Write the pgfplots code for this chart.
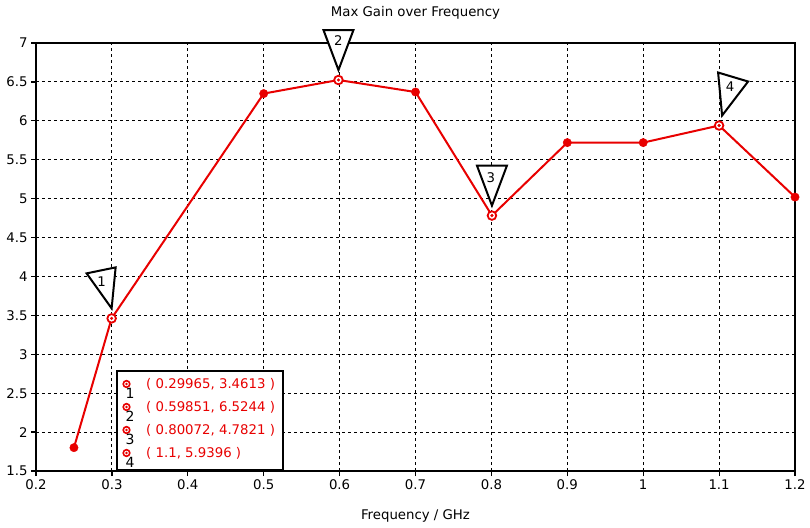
\documentclass[border=0pt]{standalone}
\usepackage{pgfplots}
\pgfplotsset{compat=1.18}
\usepackage{fontspec}
\setmainfont{DejaVu Sans}
\definecolor{mred}{RGB}{232,0,0}
\begin{document}
\begin{tikzpicture}[font=\fontsize{13.3}{15}\selectfont]
\path[use as bounding box] (-36pt,-56pt) rectangle (774pt,471pt);
\begin{axis}[
  at={(0pt,0pt)}, anchor=south west,
  scale only axis, width=759pt, height=428pt,
  xmin=0.2, xmax=1.2, ymin=1.5, ymax=7,
  xtick={0.2,0.3,0.4,0.5,0.6,0.7,0.8,0.9,1.0,1.1,1.2},
  xticklabels={0.2,0.3,0.4,0.5,0.6,0.7,0.8,0.9,1,1.1,1.2},
  ytick={1.5,2,2.5,3,3.5,4,4.5,5,5.5,6,6.5,7},
  yticklabels={1.5,2,2.5,3,3.5,4,4.5,5,5.5,6,6.5,7},
  tick align=outside, xtick pos=bottom, ytick pos=left,
  major tick length=5pt,
  tick style={black, line width=1.2pt},
  grid=major,
  grid style={black, line width=1pt, dash pattern=on 3pt off 3pt},
  axis line style={black, line width=2pt},
  title={Max Gain over Frequency},
  title style={at={(0.5,1)}, anchor=base, yshift=21pt},
  xlabel={Frequency / GHz},
  xlabel style={at={(0.5,0)}, anchor=base, yshift=-48pt},
  /pgf/number format/assume math mode=true,
  clip=false,
]
\addplot[mred, line width=2pt, mark=none] coordinates {
  (0.25,1.8) (0.29965,3.4613) (0.5,6.35) (0.59851,6.5244) (0.7,6.37)
  (0.80072,4.7821) (0.9,5.72) (1.0,5.72) (1.1,5.9396) (1.2,5.02)};
\addplot[mred, only marks, mark=*, mark size=4.2pt] coordinates {
  (0.25,1.8) (0.5,6.35) (0.7,6.37) (0.9,5.72) (1.0,5.72) (1.2,5.02)};
\addplot[mred, only marks, mark=*, mark size=4.3pt, line width=1.8pt,
  mark options={fill=white, draw=mred}] coordinates {
  (0.29965,3.4613) (0.59851,6.5244) (0.80072,4.7821) (1.1,5.9396)};
\addplot[mred, only marks, mark=*, mark size=1.4pt] coordinates {
  (0.29965,3.4613) (0.59851,6.5244) (0.80072,4.7821) (1.1,5.9396)};
% marker triangles
\draw[shift={(axis cs:0.29965,3.4613)}, line width=2pt, fill=white]
  (0pt,10pt) -- (-25pt,45pt) -- (4pt,51pt) -- cycle;
\node[shift={(axis cs:0.29965,3.4613)}] at (-10pt,37pt) {1};
\draw[shift={(axis cs:0.59851,6.5244)}, line width=2pt, fill=white]
  (0pt,10pt) -- (-15pt,50pt) -- (15pt,50pt) -- cycle;
\node[shift={(axis cs:0.59851,6.5244)}] at (0pt,39pt) {2};
\draw[shift={(axis cs:0.80072,4.7821)}, line width=2pt, fill=white]
  (0pt,10pt) -- (-15pt,50pt) -- (15pt,50pt) -- cycle;
\node[shift={(axis cs:0.80072,4.7821)}] at (-1pt,38pt) {3};
\draw[shift={(axis cs:1.1,5.9396)}, line width=2pt, fill=white]
  (3pt,10pt) -- (-1pt,53pt) -- (29pt,44pt) -- cycle;
\node[shift={(axis cs:1.1,5.9396)}] at (11pt,39pt) {4};
\end{axis}
% marker table
\draw[line width=2.5pt, fill=white] (81pt,1pt) rectangle (247pt,100pt);
\foreach \yy/\n/\t in {87/1/{( 0.29965, 3.4613 )}, 64/2/{( 0.59851, 6.5244 )}, 41/3/{( 0.80072, 4.7821 )}, 18/4/{( 1.1, 5.9396 )}} {
  \draw[mred, line width=1.6pt] (90.5pt,\yy pt) circle (3.3pt);
  \fill[mred] (90.5pt,\yy pt) circle (1.3pt);
  \node[inner sep=0pt, font=\fontsize{14}{15}\selectfont] at (94pt,\yy pt-9pt) {\n};
  \node[mred, anchor=west, inner sep=0pt] at (110pt,\yy pt) {\t};
}
\end{tikzpicture}
\end{document}
